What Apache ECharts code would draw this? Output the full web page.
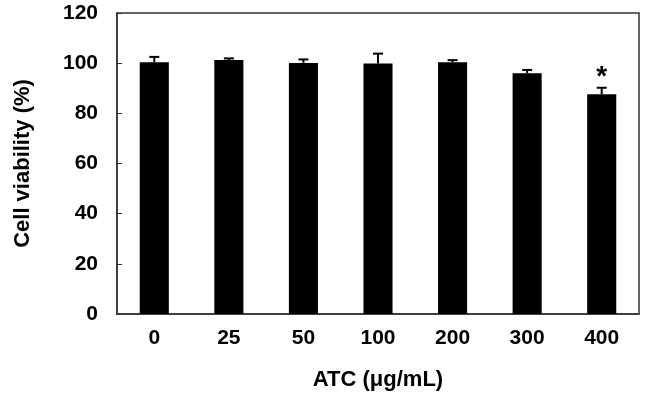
<!DOCTYPE html>
<html>
<head>
<meta charset="utf-8">
<script src="https://cdn.jsdelivr.net/npm/echarts@6/dist/echarts.min.js"></script>
<style>html,body{margin:0;padding:0;background:#fff;}#c{width:652px;height:407px;}</style>
</head>
<body>
<div id="c"></div>
<script>
const categories = ['0', '25', '50', '100', '200', '300', '400'];
const viability = [100.4, 101.3, 100.1, 99.9, 100.4, 96.0, 87.6];
const errorUpper = [2.1, 0.6, 1.4, 3.9, 0.8, 1.3, 2.6];
const significance = ['', '', '', '', '', '', '*'];
const yTicks = [0, 20, 40, 60, 80, 100, 120];

const chart = echarts.init(document.getElementById('c'));
const font = 'Liberation Sans, Arial, sans-serif';
chart.setOption({
  animation: false,
  grid: { left: 117, right: 13, top: 13, bottom: 93, show: true, borderColor: '#333', borderWidth: 1.5, backgroundColor: 'transparent' },
  xAxis: {
    type: 'category', data: categories,
    name: 'ATC (\u03bcg/mL)', nameLocation: 'middle', nameGap: 55,
    nameTextStyle: { fontFamily: font, fontWeight: 'bold', fontSize: 22, color: '#000' },
    axisLine: { lineStyle: { color: '#333', width: 1.5 } },
    axisTick: { inside: true, length: 4, lineStyle: { color: '#333', width: 1 } },
    axisLabel: { fontFamily: font, fontWeight: 'bold', fontSize: 21, color: '#000', margin: 14 }
  },
  yAxis: {
    type: 'value', min: yTicks[0], max: yTicks[yTicks.length - 1], interval: 20,
    name: 'Cell viability (%)', nameLocation: 'middle', nameGap: 83,
    nameTextStyle: { fontFamily: font, fontWeight: 'bold', fontSize: 22, color: '#000' },
    axisLine: { show: true, lineStyle: { color: '#333', width: 1.5 } },
    axisTick: { show: true, inside: true, length: 5, lineStyle: { color: '#333', width: 1 } },
    splitLine: { show: false },
    axisLabel: { fontFamily: font, fontWeight: 'bold', fontSize: 21, color: '#000', margin: 19 }
  },
  series: [
    {
      type: 'bar', data: viability, barWidth: '39%',
      itemStyle: { color: '#000' }
    },
    {
      type: 'custom',
      data: viability.map((v, i) => [i, v, v + errorUpper[i], significance[i]]),
      renderItem: function (params, api) {
        const base = api.coord([api.value(0), api.value(1)]);
        const top = api.coord([api.value(0), api.value(2)]);
        const hw = 5;
        const children = [
          { type: 'line', shape: { x1: base[0], y1: base[1], x2: top[0], y2: top[1] }, style: { stroke: '#000', lineWidth: 2 } },
          { type: 'line', shape: { x1: top[0] - hw, y1: top[1], x2: top[0] + hw, y2: top[1] }, style: { stroke: '#000', lineWidth: 2 } }
        ];
        const s = significance[params.dataIndex];
        if (s) {
          children.push({ type: 'text', style: { text: s, x: top[0], y: top[1] + 4, fill: '#000', font: 'bold 28px ' + font, textAlign: 'center', textVerticalAlign: 'bottom' } });
        }
        return { type: 'group', children: children };
      },
      z: 3
    }
  ]
});
</script>
</body>
</html>
